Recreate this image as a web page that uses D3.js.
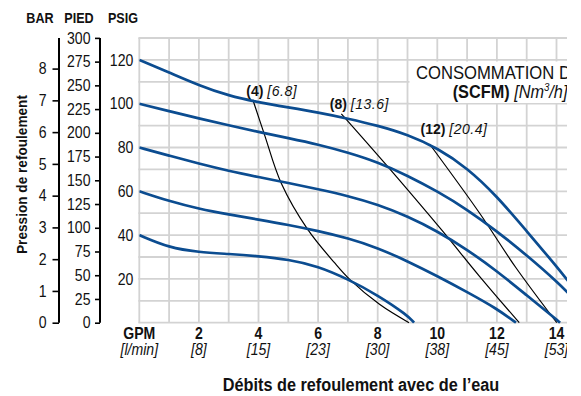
<!DOCTYPE html>
<html>
<head>
<meta charset="utf-8">
<script src="https://cdn.jsdelivr.net/npm/d3@7"></script>
<style>
  html, body { margin: 0; padding: 0; background: #fff; }
  svg { display: block; }
  text { font-family: "Liberation Sans", Arial, Helvetica, sans-serif; }
</style>
</head>
<body>
<svg id="chart" width="581" height="396"></svg>
<script>
// Flow (GPM) positions of the labelled x ticks and their l/min equivalents
const flowTicks = [0, 2, 4, 6, 8, 10, 12, 14];
const gpmLabels = ["GPM", "2", "4", "6", "8", "10", "12", "14"];
const lpmLabels = ["[l/min]", "[8]", "[15]", "[23]", "[30]", "[38]", "[45]", "[53]"];

// Pressure scales
const psiTicks = [20, 40, 60, 80, 100, 120];
const feetTicks = [0, 25, 50, 75, 100, 125, 150, 175, 200, 225, 250, 275, 300];
const barTicks = [0, 1, 2, 3, 4, 5, 6, 7, 8];

// Pump performance curves at each air inlet pressure: [GPM, PSIG]
const curve120 = [[0,120],[1,114.3],[2,108.4],[3,103.6],[4,100.6],[5,98.3],[6,96],[7,93.2],[8,90],[9,85.9],[10,79.8],[11,70.7],[12,57.8],[13,41.8],[14,25.8],[14.8,12]];
const curve100 = [[0,100],[1,96.6],[2,93.3],[3,90.1],[4,87.1],[5,84.3],[6,81.4],[7,77.7],[8,73.3],[9,67.2],[10,60],[11,51.7],[12,41.8],[13,30.8],[14,19],[14.8,8]];
const curve80  = [[0,80],[1,76.3],[2,72.6],[3,69.3],[4,66.5],[5,63.8],[6,61],[7,57.9],[8,54],[9,48.6],[10,41.8],[11,33.4],[12,23.6],[13,12.5],[14,1.5],[14.12,0]];
const curve60  = [[0,60],[1,55.5],[2,52],[3,49.4],[4,47.1],[5,44.7],[6,41.9],[7,38.6],[8,34.2],[9,28.1],[10,21.3],[11,14],[12,6.4],[12.64,0]];
const curve40  = [[0,40],[1,34.2],[2,32.2],[3,31.4],[4,30.4],[5,28.9],[6,25.8],[7,19.9],[8,12.6],[9,3.4],[9.22,0]];
const pumpCurves = [curve120, curve100, curve80, curve60, curve40];

// Air consumption lines: SCFM, Nm3/h and their paths [GPM, PSIG]
const airScfm = ["(4)", "(8)", "(12)"];
const airNm3h = ["[6.8]", "[13.6]", "[20.4]"];
const air4  = [[3.81,101.8],[4.2,85.9],[4.76,63.8],[5.65,42.6],[6.55,27.4],[7.06,19.8],[8.06,8.4],[9.05,0]];
const air8  = [[6.78,95.4],[8.28,72.2],[10.18,41.8],[11.41,21.3],[12.75,0]];
const air12 = [[9.74,81.6],[11.41,50.2],[12.64,25.1],[14.01,0]];
const airCurves = [air4, air8, air12];

const svg = d3.select("#chart");
const H = 396;
const EDGE = 567;          // artwork ends here
const NARROW = 0.88;       // horizontal squeeze giving a condensed face

const plot = { left: 139.3, right: 139.3 + 15 * 29.8, top: 322.7 - 130 * 2.19, bottom: 322.7 };
const x = d3.scaleLinear().domain([0, 15]).range([plot.left, plot.right]);
const y = d3.scaleLinear().domain([0, 130]).range([plot.bottom, plot.top]);
const yFeet = d3.scaleLinear().domain([0, 300]).range([y(0), y(300 * 0.4335)]);
const yBar = d3.scaleLinear().domain([0, 8]).range([y(0), y(8 * 14.5038)]);

// squeeze a text horizontally around its anchor point
function condense(sel, sx = NARROW, extra = "") {
  sel.each(function () {
    const t = d3.select(this);
    const tx = +t.attr("x") || 0, ty = +t.attr("y") || 0;
    t.attr("x", null).attr("y", null)
     .attr("transform", `translate(${tx},${ty})${extra} scale(${sx},1)`);
  });
}

const defs = svg.append("defs");
defs.append("clipPath").attr("id", "frame")
  .append("rect").attr("x", 0).attr("y", 0).attr("width", EDGE).attr("height", H);
defs.append("clipPath").attr("id", "plotclip")
  .append("rect").attr("x", plot.left).attr("y", plot.top - 2)
  .attr("width", EDGE - plot.left).attr("height", plot.bottom - plot.top + 3);

const root = svg.append("g").attr("clip-path", "url(#frame)");

// grid
const grid = root.append("g").attr("stroke", "#d3d3d3").attr("stroke-width", 1.8);
grid.selectAll("line.v").data(d3.range(0, 16)).join("line").attr("class", "v")
  .attr("x1", d => x(d)).attr("x2", d => x(d))
  .attr("y1", plot.top).attr("y2", plot.bottom);
grid.selectAll("line.h").data(d3.range(0, 131, 10)).join("line").attr("class", "h")
  .attr("x1", plot.left - 0.9).attr("x2", EDGE)
  .attr("y1", d => y(d)).attr("y2", d => y(d));

// white panel behind the air consumption heading
root.append("rect").attr("x", 409.5).attr("y", 61.5).attr("width", 180).attr("height", 41.5).attr("fill", "#fff");
const head1 = root.append("text").attr("x", 416).attr("y", 79.3)
  .attr("font-size", 18.5).attr("fill", "#111").text("CONSOMMATION D’AIR");
condense(head1, 0.9);
const head2 = root.append("text").attr("x", 452.7).attr("y", 98)
  .attr("font-size", 18.5).attr("fill", "#111");
head2.append("tspan").attr("font-weight", "bold").text("(SCFM) ");
head2.append("tspan").attr("font-style", "italic").text("[Nm");
head2.append("tspan").attr("font-style", "italic").attr("font-size", 11).attr("dy", -7).text("3");
head2.append("tspan").attr("font-style", "italic").attr("dy", 7).text("/h]");
condense(head2, 0.88);

// curves
const pumpLine = d3.line().x(d => x(d[0])).y(d => y(d[1])).curve(d3.curveBasis);
const airLine = d3.line().x(d => x(d[0])).y(d => y(d[1])).curve(d3.curveCatmullRom.alpha(0.5));
const curves = root.append("g").attr("clip-path", "url(#plotclip)");
curves.selectAll("path.air").data(airCurves).join("path")
  .attr("class", "air").attr("d", airLine)
  .attr("fill", "none").attr("stroke", "#000").attr("stroke-width", 1.2);
curves.selectAll("path.pump").data(pumpCurves).join("path")
  .attr("class", "pump").attr("d", pumpLine)
  .attr("fill", "none").attr("stroke", "#0b4c90").attr("stroke-width", 2.7);

// air consumption labels just above the start of each line
const labelDx = [-6.5, -11.5, -9];
const labelDy = [-4, -5, -9.5];
const airLab = root.append("g").attr("font-size", 14).attr("fill", "#111");
airCurves.forEach((c, i) => {
  const t = airLab.append("text")
    .attr("x", x(c[0][0]) + labelDx[i])
    .attr("y", y(c[0][1]) + labelDy[i]);
  t.append("tspan").attr("font-weight", "bold").text(airScfm[i] + " ");
  t.append("tspan").attr("font-style", "italic").attr("letter-spacing", 0.5).text(airNm3h[i]);
});

// PSIG labels
const psiAxis = root.append("g").attr("transform", `translate(${plot.left},0)`)
  .call(d3.axisLeft(y).tickValues(psiTicks).tickSize(0).tickPadding(6));
psiAxis.select(".domain").remove();

// feet axis
const feetAxis = root.append("g").attr("transform", "translate(100,0)")
  .call(d3.axisLeft(yFeet).tickValues(feetTicks).tickSize(5).tickPadding(4.5));
feetAxis.select(".domain").attr("d", `M0,${y(0)}V${plot.top}`);

// bar axis
const barAxis = root.append("g").attr("transform", "translate(59,0)")
  .call(d3.axisLeft(yBar).tickValues(barTicks).tickSize(6.5).tickPadding(6));
barAxis.select(".domain").attr("d", `M0,${y(0)}V${plot.top}`);

[psiAxis, feetAxis, barAxis].forEach(a => {
  a.select(".domain").attr("stroke", "#000").attr("stroke-width", 2);
  a.selectAll(".tick line").attr("stroke", "#000").attr("stroke-width", 1.6);
  a.selectAll("text").attr("font-size", 16).attr("fill", "#111").attr("font-family", null)
    .each(function () {
      const t = d3.select(this);
      t.attr("x", +t.attr("x") / NARROW).attr("transform", `scale(${NARROW},1)`);
    });
});

// axis headers
const heads = root.append("g").attr("font-size", 15).attr("font-weight", "bold")
  .attr("text-anchor", "middle").attr("fill", "#111");
heads.append("text").attr("x", 40).attr("y", 23).text("BAR");
heads.append("text").attr("x", 79).attr("y", 23).text("PIED");
heads.append("text").attr("x", 123).attr("y", 23).text("PSIG");
condense(heads.selectAll("text"), 0.84);

// flow labels
const xl = root.append("g").attr("text-anchor", "middle").attr("fill", "#111");
xl.selectAll("text.gpm").data(flowTicks).join("text")
  .attr("class", "gpm").attr("x", d => x(d)).attr("y", 338.5)
  .attr("font-size", 16).attr("font-weight", "bold")
  .text((d, i) => gpmLabels[i]);
xl.selectAll("text.lpm").data(flowTicks).join("text")
  .attr("class", "lpm").attr("x", d => x(d)).attr("y", 354.5)
  .attr("font-size", 16).attr("font-style", "italic")
  .text((d, i) => lpmLabels[i]);
condense(xl.selectAll("text"), NARROW);

// axis titles
const xTitle = root.append("text").attr("x", 361).attr("y", 390.5)
  .attr("text-anchor", "middle").attr("font-size", 18.5).attr("font-weight", "bold")
  .attr("fill", "#111").text("Débits de refoulement avec de l’eau");
condense(xTitle, NARROW);
const yTitle = root.append("text").attr("x", 26.5).attr("y", 174.5)
  .attr("text-anchor", "middle").attr("font-size", 15.5).attr("font-weight", "bold")
  .attr("fill", "#111").text("Pression de refoulement");
condense(yTitle, NARROW, " rotate(-90)");
</script>
</body>
</html>
